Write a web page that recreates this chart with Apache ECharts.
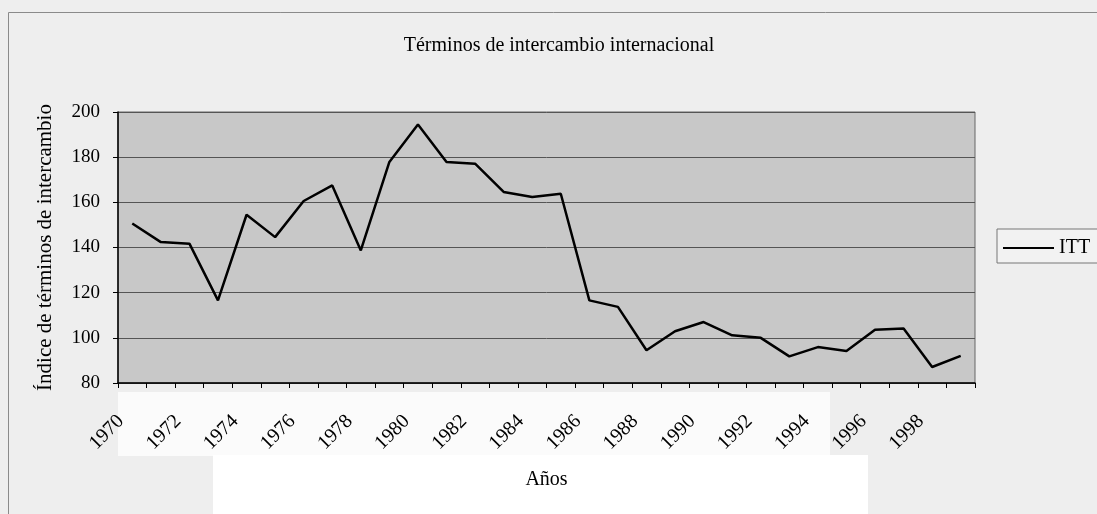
<!DOCTYPE html>
<html>
<head>
    <meta charset="utf-8">
    <title>Términos de intercambio</title>
    <script src="https://cdn.jsdelivr.net/npm/echarts@6/dist/echarts.min.js"></script>
    <style>
        body { margin: 0; background: #eeeeee; }
    </style>
</head>
<body>
    <div id="main" style="width: 1097px;height:514px;"></div>
    <script type="text/javascript">
        // años 1970-1999
        var years = ['1970', '1971', '1972', '1973', '1974', '1975', '1976', '1977', '1978', '1979',
                     '1980', '1981', '1982', '1983', '1984', '1985', '1986', '1987', '1988', '1989',
                     '1990', '1991', '1992', '1993', '1994', '1995', '1996', '1997', '1998', '1999'];
        // índice ITT
        var itt = [150.6, 142.4, 141.7, 116.6, 154.5, 144.6, 160.6, 167.5, 138.7, 177.9,
                   194.5, 177.9, 177.1, 164.6, 162.4, 163.8, 116.6, 113.7, 94.5, 102.9,
                   107.0, 101.1, 100.0, 91.8, 95.9, 94.2, 103.6, 104.1, 87.1, 92.0];
        var yTicks = [80, 200, 20]; // min, max, interval

        var fontFam = '"Liberation Serif", "DejaVu Serif", serif';
        var myChart = echarts.init(document.getElementById('main'));

        var option = {
            backgroundColor: '#eeeeee',
            animation: false,
            textStyle: { fontFamily: fontFam, color: '#000' },
            title: {
                text: 'Términos de intercambio internacional',
                left: 554,
                top: 31,
                textAlign: 'center',
                textStyle: { fontFamily: fontFam, fontSize: 20, fontWeight: 'normal', color: '#000' }
            },
            graphic: [
                // marco exterior
                { type: 'rect', z: -10, shape: { x: 8.5, y: 12.5, width: 1200, height: 600 },
                  style: { fill: 'none', stroke: '#8a8a8a', lineWidth: 1 } },
                // zonas blancas del escaneo
                { type: 'rect', z: -9, shape: { x: 118, y: 392, width: 712, height: 64 },
                  style: { fill: '#fbfbfb' } },
                { type: 'rect', z: -9, shape: { x: 213, y: 455, width: 655, height: 60 },
                  style: { fill: '#ffffff' } }
            ],
            legend: {
                data: ['ITT'],
                left: 997,
                top: 229,
                orient: 'vertical',
                icon: 'rect',
                itemWidth: 51,
                itemHeight: 2,
                itemGap: 0,
                padding: [9, 12, 5, 6],
                borderColor: '#777',
                borderWidth: 1,
                backgroundColor: '#f2f2f2',
                textStyle: { fontFamily: fontFam, fontSize: 20, color: '#000' }
            },
            grid: {
                left: 118,
                right: 122,
                top: 112,
                bottom: 131,
                show: true,
                backgroundColor: '#c8c8c8',
                borderColor: '#666',
                borderWidth: 1
            },
            xAxis: {
                type: 'category',
                data: years,
                boundaryGap: true,
                name: 'Años',
                nameLocation: 'middle',
                nameGap: 87,
                nameTextStyle: { fontFamily: fontFam, fontSize: 20, color: '#000' },
                axisLine: { lineStyle: { color: '#000', width: 1.5 } },
                axisTick: { show: true, length: 5, interval: 0, lineStyle: { color: '#000' } },
                axisLabel: {
                    interval: 1,
                    rotate: 45,
                    margin: 24,
                    padding: [0, 16, 0, 0],
                    fontFamily: fontFam,
                    fontSize: 20,
                    color: '#000'
                },
                splitLine: { show: false }
            },
            yAxis: {
                type: 'value',
                min: yTicks[0],
                max: yTicks[1],
                interval: yTicks[2],
                name: 'Índice de términos de intercambio',
                nameLocation: 'middle',
                nameGap: 62,
                nameTextStyle: { fontFamily: fontFam, fontSize: 21, color: '#000' },
                axisLine: { show: true, lineStyle: { color: '#000', width: 1.5 } },
                axisTick: { show: true, length: 5, lineStyle: { color: '#000' } },
                axisLabel: { margin: 18, fontFamily: fontFam, fontSize: 19, color: '#000' },
                splitLine: { show: true, lineStyle: { color: '#555', width: 1 } }
            },
            series: [
                {
                    name: 'ITT',
                    type: 'line',
                    data: itt,
                    showSymbol: false,
                    symbol: 'none',
                    itemStyle: { color: '#000' },
                    lineStyle: { color: '#000', width: 2.5 }
                }
            ]
        };

        myChart.setOption(option);
    </script>
</body>
</html>
